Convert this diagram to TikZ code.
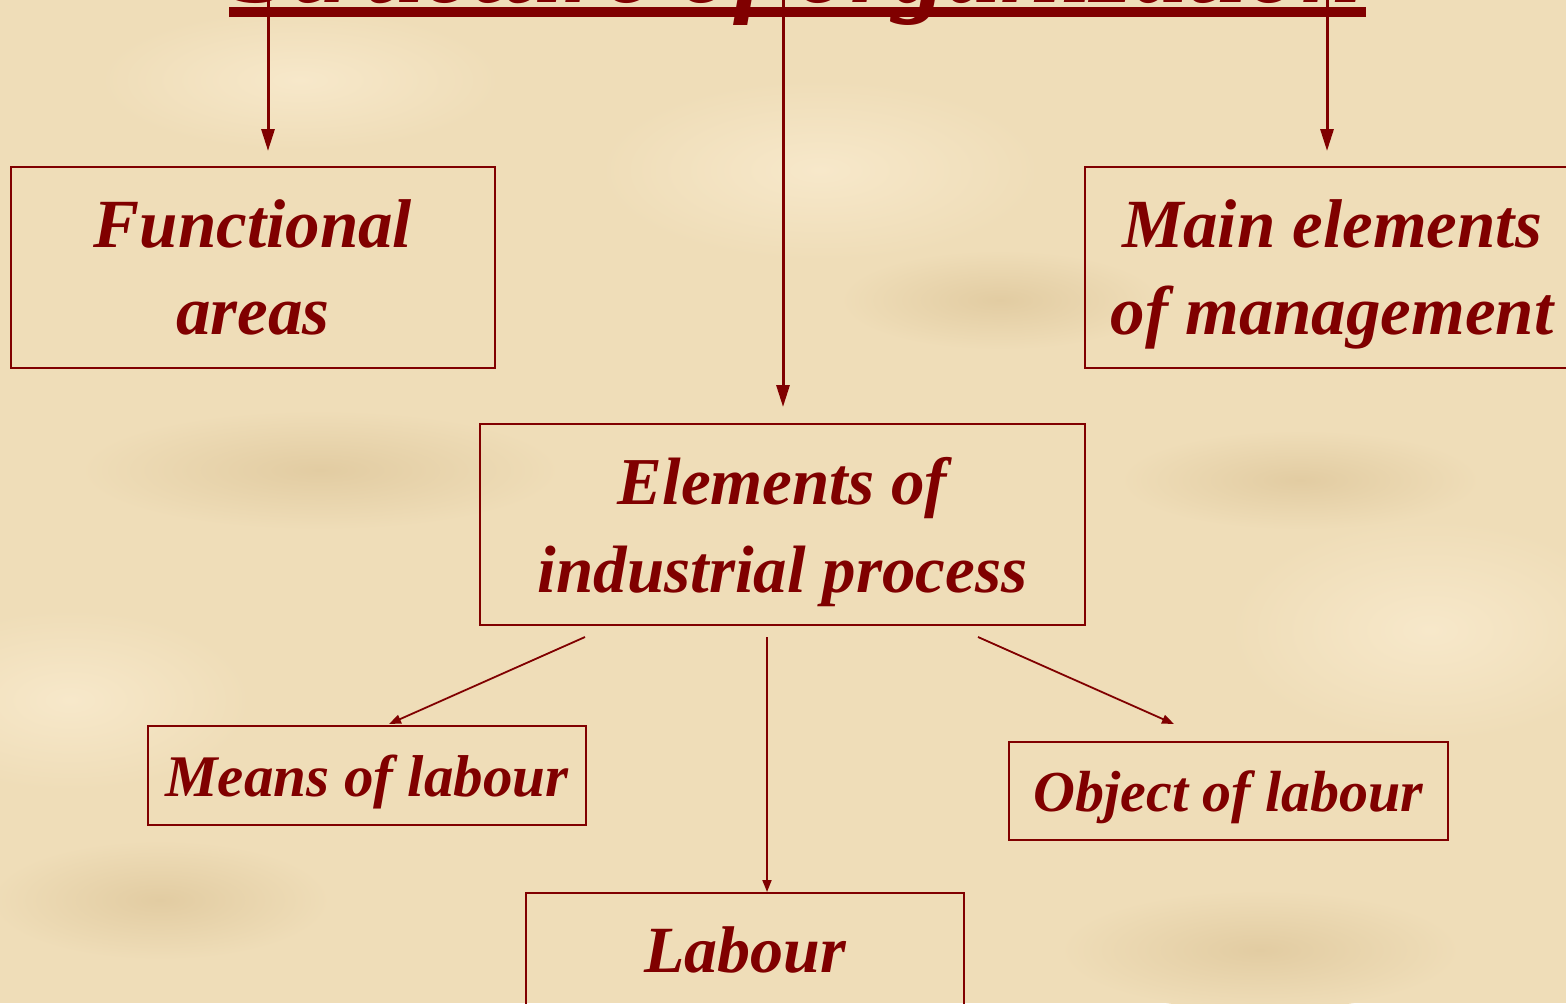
\documentclass[tikz,border=0pt]{standalone}
\usepackage{fontspec}
\setmainfont{Liberation Serif}
\usetikzlibrary{arrows.meta,calc}
\definecolor{dred}{HTML}{800000}
\definecolor{parch}{HTML}{EFDDB8}
\definecolor{parchlight}{HTML}{F7E8CA}
\definecolor{parchdark}{HTML}{E2CCA2}
\tikzset{
  box/.style={draw=dred, line width=1pt, text=dred, align=center, inner sep=0pt,
              text depth=0pt, font=\bfseries\itshape},
  bigarr/.style={draw=dred, line width=1.5pt, -{Triangle[length=11pt,width=6.5pt]}},
  smallarr/.style={draw=dred, line width=0.9pt, -{Triangle[length=6pt,width=4.5pt]}},
  blobL/.style={inner color=parchlight, outer color=parch},
  blobD/.style={inner color=parchdark, outer color=parch},
}
\begin{document}
\begin{tikzpicture}[x=0.5pt,y=-0.5pt]
\useasboundingbox (0,0) rectangle (1566,1003);
\clip (0,0) rectangle (1566,1003);
\fill[parch] (0,0) rectangle (1566,1003);
% soft parchment patches
\shade[blobL] (70,700) ellipse (180 and 90);
\shade[blobL] (820,170) ellipse (220 and 90);
\shade[blobL] (1430,630) ellipse (200 and 110);
\shade[blobL] (300,80) ellipse (200 and 70);
\shade[blobD] (320,470) ellipse (240 and 60);
\shade[blobD] (1000,300) ellipse (160 and 50);
\shade[blobD] (160,900) ellipse (170 and 60);
\shade[blobD] (1260,950) ellipse (200 and 60);
\shade[blobD] (1300,480) ellipse (180 and 50);
% title (mostly above the picture)
\node[anchor=base, text=dred, font=\bfseries\itshape\fontsize{54}{60}\selectfont, inner sep=0pt]
  (title) at (797,2) {Structure of organization};
\fill[dred] (229,7) rectangle (1366,17);
\coordinate (t1) at (268,0);
\coordinate (t2) at (783,0);
\coordinate (t3) at (1327,0);
% boxes
\node[box, minimum width=242pt, minimum height=100.5pt, font=\bfseries\itshape\fontsize{34.5}{43.5}\selectfont]
  (func) at (253,267.5) {Functional\\areas};
\node[box, minimum width=247.5pt, minimum height=100.5pt, font=\bfseries\itshape\fontsize{34.5}{43.5}\selectfont]
  (main) at (1332,267.5) {Main elements\\of management};
\node[box, minimum width=302.5pt, minimum height=100.5pt, font=\bfseries\itshape\fontsize{33.5}{44}\selectfont]
  (elem) at (782.5,524.5) {Elements of\\industrial process};
\node[box, minimum width=219pt, minimum height=49.5pt, font=\bfseries\itshape\fontsize{29.5}{36}\selectfont]
  (means) at (367,775.5) {Means of labour};
\node[box, minimum width=219.5pt, minimum height=49pt, font=\bfseries\itshape\fontsize{29}{36}\selectfont]
  (object) at (1228.5,791) {Object of labour};
\node[box, minimum width=219pt, minimum height=57pt, font=\bfseries\itshape\fontsize{33}{40}\selectfont, anchor=north]
  (labour) at (745,892) {Labour};
% top connectors
\draw[bigarr] (t1) -- ($(t1 |- func.north)+(0,-15)$);
\draw[bigarr] (t2) -- ($(t2 |- elem.north)+(0,-16)$);
\draw[bigarr] (t3) -- ($(t3 |- main.north)+(0,-15)$);
% lower connectors
\coordinate (e1) at ($(elem.south west)+(106,11)$);
\coordinate (e2) at ($(elem.south west)+(288,11)$);
\coordinate (e3) at ($(elem.south west)+(499,11)$);
\coordinate (m1) at ($(means.north west)+(242,-1)$);
\coordinate (o1) at ($(object.north west)+(166,-17)$);
\draw[smallarr] (e1) -- (m1);
\draw[smallarr] (e2) -- (e2 |- labour.north);
\draw[smallarr] (e3) -- (o1);
\end{tikzpicture}
\end{document}
